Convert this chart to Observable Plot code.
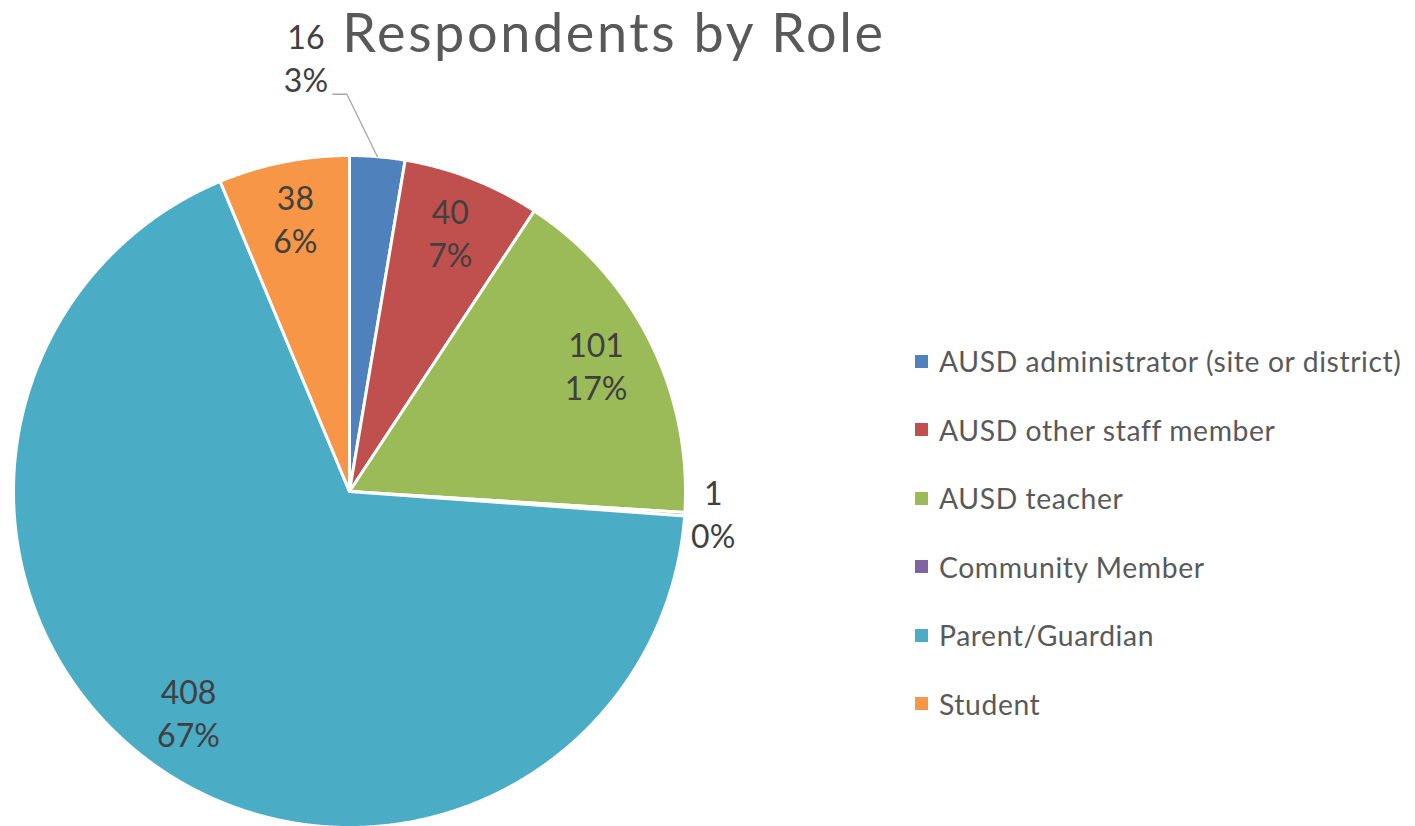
<!DOCTYPE html>
<html>
<head>
<meta charset="utf-8">
<script src="https://cdn.jsdelivr.net/npm/d3@7"></script>
<script src="https://cdn.jsdelivr.net/npm/@observablehq/plot@0.6"></script>
<style>
  body { margin: 0; background: #fff; font-family: Lato, "Open Sans", sans-serif; }
  #wrap { position: relative; width: 1415px; height: 826px; overflow: hidden; }
  #chart { position: absolute; left: 0; top: 0; }
  #title { position: absolute; top: 0px; left: 614px; transform: translateX(-50%);
           font-size: 54px; line-height: 1.2; letter-spacing: 2.6px; color: #595959; white-space: nowrap; }
  #legend { position: absolute; left: 915px; top: 327px; }
  .row { display: flex; align-items: center; height: 68.5px; font-size: 28.3px; letter-spacing: 0.6px; color: #595959; white-space: nowrap; }
  .sw { width: 13px; height: 13px; margin-right: 11px; flex: none; }
</style>
</head>
<body>
<div id="wrap">
  <div id="chart"></div>
  <div id="title"></div>
  <div id="legend"></div>
</div>
<script>
// ---- data ----
const titleText = "Respondents by Role";
const categories = [
  "AUSD administrator (site or district)",
  "AUSD other staff member",
  "AUSD teacher",
  "Community Member",
  "Parent/Guardian",
  "Student"
];
const counts = [16, 40, 101, 1, 408, 38];
const percentLabels = ["3%", "7%", "17%", "0%", "67%", "6%"];
const colors = ["#4F81BD", "#C0504D", "#9BBB59", "#8064A2", "#4BACC6", "#F79646"];

// ---- layout ----
const W = 1415, H = 826;
const R = 336, cx = 349, cy = 491;   // pie centre and radius in pixels
const fontFamily = "Lato, 'Open Sans', sans-serif";

// pie angles (0 = 12 o'clock, clockwise), unit radius coordinates with y up
const arcs = d3.pie().sort(null).value(d => d)(counts);
const pt = (a, r) => ({x: r * Math.sin(a), y: r * Math.cos(a)});

const slicePts = [];
arcs.forEach((a, i) => {
  const cat = categories[i];
  slicePts.push({cat, x: 0, y: 0});
  const n = Math.max(2, Math.ceil((a.endAngle - a.startAngle) / 0.004));
  for (let k = 0; k <= n; k++) {
    const ang = a.startAngle + (a.endAngle - a.startAngle) * k / n;
    slicePts.push({cat, ...pt(ang, 1)});
  }
});

// label placement: inside at 0.82R, tiny slices outside, first slice is a callout
const total = d3.sum(counts);
const lineGap = 43 / R / 2;  // half the line spacing in radius units
const labels = [];
let leader = [];
arcs.forEach((a, i) => {
  const mid = (a.startAngle + a.endAngle) / 2;
  const share = counts[i] / total;
  let p;
  if (i === 0) {
    // callout moved to the other side of 12 o'clock, with a leader line
    p = pt(-mid - Math.PI / 180, 1.29);
    const lx = p.x + 27 / R, ly = p.y - 34 / R;
    leader = [{x: lx, y: ly}, {x: lx + 14 / R, y: ly}, pt(mid, 1)];
  } else if (share < 0.02) {
    p = pt(mid, 1.085);
  } else {
    p = pt(mid, 0.82);
  }
  labels.push({x: p.x, y: p.y + lineGap, text: String(counts[i])});
  labels.push({x: p.x, y: p.y - lineGap, text: percentLabels[i]});
});

const chart = Plot.plot({
  width: W,
  height: H,
  margin: 0,
  x: {domain: [-cx / R, (W - cx) / R], axis: null},
  y: {domain: [-(H - cy) / R, cy / R], axis: null},
  color: {domain: categories, range: colors},
  style: {background: "transparent", fontFamily},
  marks: [
    Plot.line(slicePts, {
      x: "x", y: "y", z: "cat", fill: "cat",
      stroke: "#ffffff", strokeWidth: 3, strokeLinejoin: "round",
      curve: "linear-closed"
    }),
    Plot.line(leader, {x: "x", y: "y", stroke: "#A6A6A6", strokeWidth: 1.3, curve: "linear"}),
    Plot.text(labels, {
      x: "x", y: "y", text: "text",
      fill: "#404040", fontSize: 32, fontFamily
    })
  ]
});
document.getElementById("chart").appendChild(chart);

document.getElementById("title").textContent = titleText;
const legend = document.getElementById("legend");
const colorScale = chart.scale("color");
categories.forEach((c, i) => {
  const row = document.createElement("div");
  row.className = "row";
  const sw = document.createElement("span");
  sw.className = "sw";
  sw.style.background = colorScale.range[i];
  const lab = document.createElement("span");
  lab.textContent = c;
  row.appendChild(sw);
  row.appendChild(lab);
  legend.appendChild(row);
});
</script>
</body>
</html>
